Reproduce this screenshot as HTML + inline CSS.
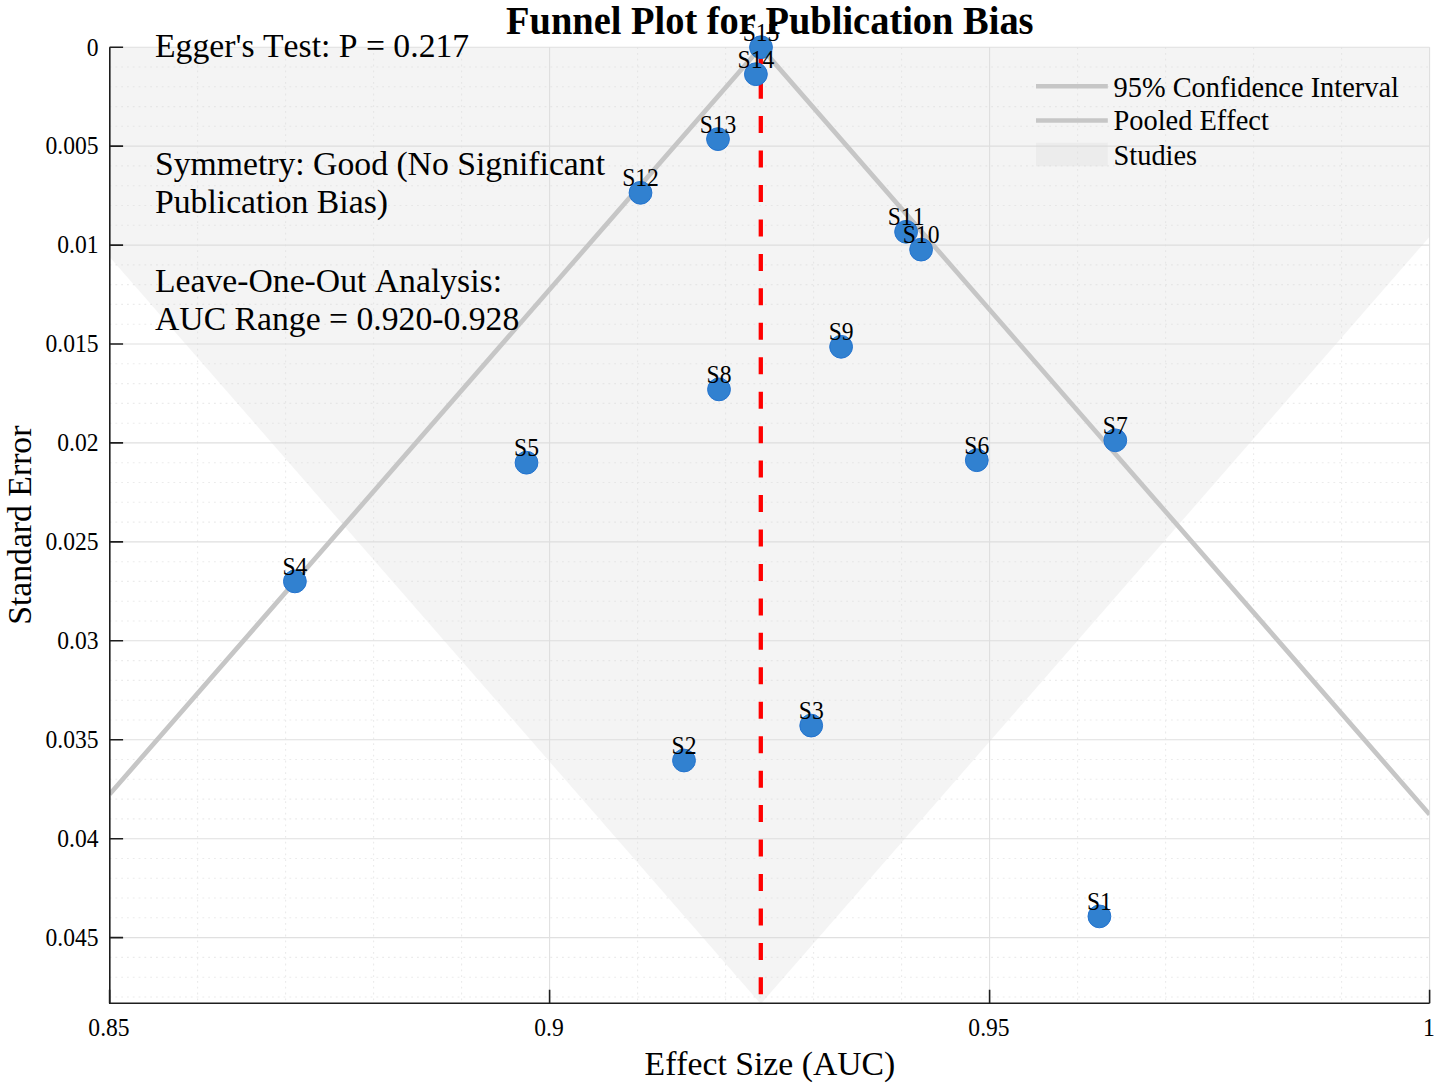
<!DOCTYPE html>
<html><head><meta charset="utf-8"><style>
html,body{margin:0;padding:0;background:#fff;}
svg{display:block;}
text{font-family:"Liberation Serif",serif;font-kerning:none;}
</style></head><body>
<svg width="1441" height="1091" viewBox="0 0 1441 1091">
<defs><clipPath id="pa"><rect x="109.6" y="47.2" width="1320.0" height="956.0"/></clipPath></defs>
<rect width="1441" height="1091" fill="#fff"/>

<path d="M197.6 47.2V1003.2M285.6 47.2V1003.2M373.6 47.2V1003.2M461.6 47.2V1003.2M637.6 47.2V1003.2M725.6 47.2V1003.2M813.6 47.2V1003.2M901.6 47.2V1003.2M1077.6 47.2V1003.2M1165.6 47.2V1003.2M1253.6 47.2V1003.2M1341.6 47.2V1003.2M109.6 67.0H1429.6M109.6 86.8H1429.6M109.6 106.6H1429.6M109.6 126.3H1429.6M109.6 165.9H1429.6M109.6 185.7H1429.6M109.6 205.5H1429.6M109.6 225.3H1429.6M109.6 264.9H1429.6M109.6 284.6H1429.6M109.6 304.4H1429.6M109.6 324.2H1429.6M109.6 363.8H1429.6M109.6 383.6H1429.6M109.6 403.4H1429.6M109.6 423.2H1429.6M109.6 462.7H1429.6M109.6 482.5H1429.6M109.6 502.3H1429.6M109.6 522.1H1429.6M109.6 561.7H1429.6M109.6 581.4H1429.6M109.6 601.2H1429.6M109.6 621.0H1429.6M109.6 660.6H1429.6M109.6 680.4H1429.6M109.6 700.2H1429.6M109.6 720.0H1429.6M109.6 759.5H1429.6M109.6 779.3H1429.6M109.6 799.1H1429.6M109.6 818.9H1429.6M109.6 858.5H1429.6M109.6 878.3H1429.6M109.6 898.0H1429.6M109.6 917.8H1429.6M109.6 957.4H1429.6M109.6 977.2H1429.6M109.6 997.0H1429.6" stroke="#ebebeb" stroke-width="1.1" stroke-dasharray="1.8 4.0" fill="none"/>
<path d="M109.6 47.2V1003.2M549.6 47.2V1003.2M989.6 47.2V1003.2M1429.6 47.2V1003.2M109.6 47.2H1429.6M109.6 146.1H1429.6M109.6 245.1H1429.6M109.6 344.0H1429.6M109.6 442.9H1429.6M109.6 541.9H1429.6M109.6 640.8H1429.6M109.6 739.7H1429.6M109.6 838.7H1429.6M109.6 937.6H1429.6" stroke="#e0e0e0" stroke-width="1.1" fill="none"/>
<g clip-path="url(#pa)"><polygon points="-73.2,47.2 1594.8,47.2 760.8,1004.0" fill="#dadada" fill-opacity="0.3"/></g>
<g clip-path="url(#pa)"><path d="M109.6 794.3L760.8 47.2L1429.6 814.5" stroke="#c6c6c6" stroke-width="4.7" fill="none" stroke-linejoin="miter"/></g>
<path d="M760.8 47.2V1003.2" stroke="#ff0000" stroke-width="4.3" stroke-dasharray="17 17.45" fill="none"/>
<circle cx="1099.4" cy="916.4" r="11.4" fill="#3181d0" stroke="#2373cf" stroke-width="1"/>
<circle cx="684.0" cy="760.5" r="11.4" fill="#3181d0" stroke="#2373cf" stroke-width="1"/>
<circle cx="811.2" cy="725.6" r="11.4" fill="#3181d0" stroke="#2373cf" stroke-width="1"/>
<circle cx="294.9" cy="581.4" r="11.4" fill="#3181d0" stroke="#2373cf" stroke-width="1"/>
<circle cx="526.5" cy="462.7" r="11.4" fill="#3181d0" stroke="#2373cf" stroke-width="1"/>
<circle cx="976.8" cy="460.2" r="11.4" fill="#3181d0" stroke="#2373cf" stroke-width="1"/>
<circle cx="1115.3" cy="440.3" r="11.4" fill="#3181d0" stroke="#2373cf" stroke-width="1"/>
<circle cx="719.0" cy="389.4" r="11.4" fill="#3181d0" stroke="#2373cf" stroke-width="1"/>
<circle cx="841.1" cy="346.8" r="11.4" fill="#3181d0" stroke="#2373cf" stroke-width="1"/>
<circle cx="921.1" cy="249.6" r="11.4" fill="#3181d0" stroke="#2373cf" stroke-width="1"/>
<circle cx="906.1" cy="231.8" r="11.4" fill="#3181d0" stroke="#2373cf" stroke-width="1"/>
<circle cx="640.5" cy="192.8" r="11.4" fill="#3181d0" stroke="#2373cf" stroke-width="1"/>
<circle cx="718.0" cy="139.1" r="11.4" fill="#3181d0" stroke="#2373cf" stroke-width="1"/>
<circle cx="755.9" cy="74.2" r="11.4" fill="#3181d0" stroke="#2373cf" stroke-width="1"/>
<circle cx="761.0" cy="47.2" r="11.4" fill="#3181d0" stroke="#2373cf" stroke-width="1"/>
<text transform="translate(1099.40,910.05) scale(1,1.030)" font-size="23.6" text-anchor="middle">S1</text>
<text transform="translate(684.00,754.15) scale(1,1.030)" font-size="23.6" text-anchor="middle">S2</text>
<text transform="translate(811.25,719.25) scale(1,1.030)" font-size="23.6" text-anchor="middle">S3</text>
<text transform="translate(294.90,575.05) scale(1,1.030)" font-size="23.6" text-anchor="middle">S4</text>
<text transform="translate(526.50,456.35) scale(1,1.030)" font-size="23.6" text-anchor="middle">S5</text>
<text transform="translate(976.80,453.85) scale(1,1.030)" font-size="23.6" text-anchor="middle">S6</text>
<text transform="translate(1115.30,433.95) scale(1,1.030)" font-size="23.6" text-anchor="middle">S7</text>
<text transform="translate(719.05,383.05) scale(1,1.030)" font-size="23.6" text-anchor="middle">S8</text>
<text transform="translate(841.10,340.40) scale(1,1.030)" font-size="23.6" text-anchor="middle">S9</text>
<text transform="translate(921.10,243.25) scale(1,1.030)" font-size="23.6" text-anchor="middle">S10</text>
<text transform="translate(906.10,225.45) scale(1,1.030)" font-size="23.6" text-anchor="middle">S11</text>
<text transform="translate(640.55,186.45) scale(1,1.030)" font-size="23.6" text-anchor="middle">S12</text>
<text transform="translate(718.00,132.70) scale(1,1.030)" font-size="23.6" text-anchor="middle">S13</text>
<text transform="translate(755.90,67.85) scale(1,1.030)" font-size="23.6" text-anchor="middle">S14</text>
<text transform="translate(761.00,40.85) scale(1,1.030)" font-size="23.6" text-anchor="middle">S15</text>
<path d="M109.80 47.20V1003.20H1429.60" stroke="#1e1e1e" stroke-width="1.6" fill="none"/>
<path d="M109.6 47.2H123.1M109.6 146.1H123.1M109.6 245.1H123.1M109.6 344.0H123.1M109.6 442.9H123.1M109.6 541.9H123.1M109.6 640.8H123.1M109.6 739.7H123.1M109.6 838.7H123.1M109.6 937.6H123.1M109.6 1003.2V989.7M549.6 1003.2V989.7M989.6 1003.2V989.7M1429.6 1003.2V989.7" stroke="#1e1e1e" stroke-width="1.6" fill="none"/>
<text transform="translate(98.50,55.50) scale(1,1.030)" font-size="23.6" text-anchor="end">0</text>
<text transform="translate(98.50,154.44) scale(1,1.030)" font-size="23.6" text-anchor="end">0.005</text>
<text transform="translate(98.50,253.37) scale(1,1.030)" font-size="23.6" text-anchor="end">0.01</text>
<text transform="translate(98.50,352.31) scale(1,1.030)" font-size="23.6" text-anchor="end">0.015</text>
<text transform="translate(98.50,451.24) scale(1,1.030)" font-size="23.6" text-anchor="end">0.02</text>
<text transform="translate(98.50,550.17) scale(1,1.030)" font-size="23.6" text-anchor="end">0.025</text>
<text transform="translate(98.50,649.11) scale(1,1.030)" font-size="23.6" text-anchor="end">0.03</text>
<text transform="translate(98.50,748.05) scale(1,1.030)" font-size="23.6" text-anchor="end">0.035</text>
<text transform="translate(98.50,846.98) scale(1,1.030)" font-size="23.6" text-anchor="end">0.04</text>
<text transform="translate(98.50,945.91) scale(1,1.030)" font-size="23.6" text-anchor="end">0.045</text>
<text transform="translate(109.00,1035.60) scale(1,1.030)" font-size="23.6" text-anchor="middle">0.85</text>
<text transform="translate(549.00,1035.60) scale(1,1.030)" font-size="23.6" text-anchor="middle">0.9</text>
<text transform="translate(989.00,1035.60) scale(1,1.030)" font-size="23.6" text-anchor="middle">0.95</text>
<text transform="translate(1429.00,1035.60) scale(1,1.030)" font-size="23.6" text-anchor="middle">1</text>
<text transform="translate(769.90,1075.10) scale(1,1.015)" font-size="33.7" text-anchor="middle">Effect Size (AUC)</text>
<text transform="translate(31.2,525.2) rotate(-90)" x="0" y="0" font-size="33.7" text-anchor="middle">Standard Error</text>
<text transform="translate(769.80,33.80) scale(1,1.020)" font-size="38.45" text-anchor="middle" font-weight="bold">Funnel Plot for Publication Bias</text>
<text transform="translate(155.00,57.10) scale(1,1.015)" font-size="33.7">Egger's Test: P = 0.217</text>
<text transform="translate(155.00,175.10) scale(1,1.015)" font-size="33.7">Symmetry: Good (No Significant</text>
<text transform="translate(155.00,213.10) scale(1,1.015)" font-size="33.7">Publication Bias)</text>
<text transform="translate(155.00,291.90) scale(1,1.015)" font-size="33.7">Leave-One-Out Analysis:</text>
<text transform="translate(155.00,330.20) scale(1,1.015)" font-size="33.7">AUC Range = 0.920-0.928</text>
<path d="M1036 86.2H1107.8M1036 120.45H1107.8" stroke="#c6c6c6" stroke-width="4.4"/>
<rect x="1036" y="142.7" width="71.8" height="23.6" fill="#dadada" fill-opacity="0.3"/>
<text transform="translate(1113.50,96.80) scale(1,1.015)" font-size="28.4">95% Confidence Interval</text>
<text transform="translate(1113.50,130.40) scale(1,1.015)" font-size="28.4">Pooled Effect</text>
<text transform="translate(1113.50,165.00) scale(1,1.015)" font-size="28.4">Studies</text>
</svg></body></html>
